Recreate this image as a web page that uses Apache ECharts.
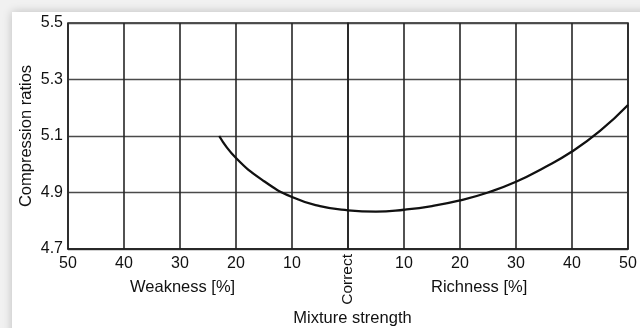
<!DOCTYPE html>
<html>
<head>
<meta charset="utf-8">
<script src="https://cdn.jsdelivr.net/npm/echarts@6/dist/echarts.min.js"></script>
<style>
  html, body { margin: 0; padding: 0; width: 640px; height: 328px; overflow: hidden; background: #f1f1f1; }
  #card { position: absolute; left: 12px; top: 12px; width: 660px; height: 340px; background: #fff;
          box-shadow: 0 0 9px rgba(0,0,0,0.22); }
  #chart { position: absolute; left: 0; top: 0; width: 640px; height: 328px; }
</style>
</head>
<body>
<div id="card"></div>
<div id="chart"></div>
<script>
// Mixture strength: negative = weak (lean), positive = rich, 0 = correct mixture
const mixture = [-23, -20, -15, -10, -5, 0, 5, 10, 15, 20, 25, 30, 35, 40, 45, 50];
// Highest useful compression ratio at each mixture strength
const compressionRatio = [5.100, 5.022, 4.940, 4.884, 4.852, 4.837, 4.832, 4.839, 4.852, 4.872, 4.900, 4.938, 4.988, 5.045, 5.118, 5.210];
const yTicks = [4.7, 4.9, 5.1, 5.3, 5.5];
const sideLabels = ['Weakness [%]', 'Richness [%]'];

const FONT = '"Liberation Sans", Arial, sans-serif';
const FS = 16;
const chart = echarts.init(document.getElementById('chart'), null, { renderer: 'canvas' });

chart.setOption({
  backgroundColor: 'transparent',
  animation: false,
  grid: {
    left: 68, right: 12, top: 23, bottom: 79, containLabel: false, outerBoundsMode: 'none',
    show: true, borderColor: '#1e1e1e', borderWidth: 1.5
  },
  xAxis: [
    {
      type: 'value', min: -50, max: 50, interval: 10,
      name: 'Mixture strength', nameLocation: 'middle', nameGap: 61, nameMoveOverlap: false,
      nameTextStyle: { fontFamily: FONT, fontSize: FS + 0.5, color: '#111', padding: [0, 0, 0, 9] },
      axisLine: { show: true, lineStyle: { color: '#1e1e1e', width: 1.5 } },
      axisTick: { show: false },
      axisLabel: {
        margin: 7, fontFamily: FONT, fontSize: FS, color: '#111',
        formatter: v => (v === 0 ? '' : String(Math.abs(v)))
      },
      splitLine: { show: true, lineStyle: { color: '#262626', width: 1.6 } }
    },
    {
      // carries only the vertical "Correct" label under the zero line
      type: 'value', min: -50, max: 50, interval: 10, position: 'bottom',
      axisLine: { show: false }, axisTick: { show: false }, splitLine: { show: false },
      axisLabel: {
        rotate: 90, margin: 5, fontFamily: FONT, fontSize: FS - 0.5, color: '#111',
        formatter: v => (v === 0 ? 'Correct' : '')
      }
    }
  ],
  yAxis: {
    type: 'value', min: yTicks[0], max: yTicks[yTicks.length - 1], interval: 0.2,
    name: 'Compression ratios', nameLocation: 'middle', nameGap: 33, nameMoveOverlap: false,
    nameTextStyle: { fontFamily: FONT, fontSize: FS + 0.5, color: '#111' },
    axisLine: { show: true, lineStyle: { color: '#1e1e1e', width: 1.5 } },
    axisTick: { show: false },
    axisLabel: { margin: 5, fontFamily: FONT, fontSize: FS, color: '#111', formatter: v => v.toFixed(1) },
    splitLine: { show: true, lineStyle: { color: '#4a4a4a', width: 1.3 } }
  },
  graphic: [
    { type: 'text', left: 130, top: 279, style: { text: sideLabels[0], font: (FS + 0.5) + 'px ' + FONT, fill: '#111' } },
    { type: 'text', left: 431, top: 279, style: { text: sideLabels[1], font: (FS + 0.5) + 'px ' + FONT, fill: '#111' } }
  ],
  series: [{
    type: 'line',
    data: mixture.map((m, i) => [m, compressionRatio[i]]),
    smooth: 0.5,
    showSymbol: false,
    lineStyle: { color: '#111', width: 2.3 }
  }]
});
</script>
</body>
</html>
